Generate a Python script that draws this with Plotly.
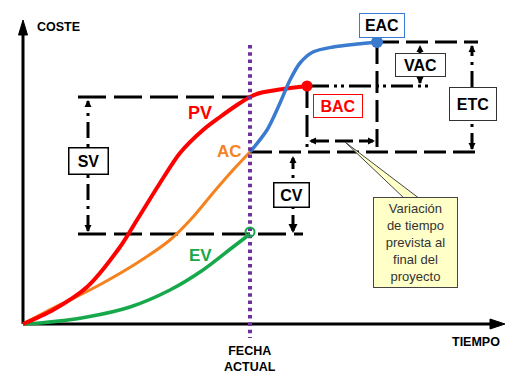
import plotly.graph_objects as go

# ---- data (time, cost) measured from the axes origin ----
pv_t = [0, 30, 64, 97, 114, 137, 157, 180, 197, 214, 227, 237, 260, 284]
pv_c = [0, 14, 37, 77, 104, 141, 171, 194, 207, 219, 227, 231, 235, 238]
ac_t = [0, 30, 47, 80, 114, 147, 170, 190, 210, 227]
ac_c = [0, 16, 24, 41, 61, 84, 107, 131, 154, 172]
ev_t = [0, 17, 64, 107, 147, 180, 210, 227]
ev_c = [0, 1, 7, 17, 34, 54, 77, 90]
eac_t = [227, 244, 257, 267, 277, 290, 310, 334, 354]
eac_c = [172, 194, 221, 244, 261, 272, 277, 280, 282]

DATE_T = 227
PV_AT_DATE = 227
AC_AT_DATE = 172
EV_AT_DATE = 90
BAC_T, BAC = 284, 238
EAC_T, EAC = 354, 282

X_END = 482
Y_END = 304

RED = "#ff0000"
ORANGE = "#f5821f"
GREEN = "#16a84a"
BLUE = "#3a7bd0"
PURPLE = "#7030a0"
FONT = "Liberation Sans, Arial, sans-serif"

fig = go.Figure()

def line(xs, ys, color="black", width=3, dash="solid", shape="linear"):
    fig.add_trace(go.Scatter(x=xs, y=ys, mode="lines",
                             line=dict(color=color, width=width, dash=dash,
                                       shape=shape, smoothing=0.8),
                             hoverinfo="skip"))

def mark(x, y, symbol, size=7, color="black"):
    fig.add_trace(go.Scatter(x=[x], y=[y], mode="markers",
                             marker=dict(symbol=symbol, size=size, color=color,
                                         line=dict(width=0)),
                             hoverinfo="skip"))

# axes
line([0, 0], [0, Y_END - 14])
line([0, X_END - 14], [0, 0])
fig.add_trace(go.Scatter(x=[-4.5, 0, 4.5, -4.5], y=[Y_END - 15, Y_END, Y_END - 15, Y_END - 15],
                         mode="lines", fill="toself", fillcolor="black",
                         line=dict(color="black", width=1), hoverinfo="skip"))
fig.add_trace(go.Scatter(x=[X_END - 15, X_END, X_END - 15, X_END - 15], y=[-5, 0, 5, -5],
                         mode="lines", fill="toself", fillcolor="black",
                         line=dict(color="black", width=1), hoverinfo="skip"))

# reference dashed lines
LD = "28px,8px"
MD = "22px,7px"
line([55, DATE_T], [PV_AT_DATE, PV_AT_DATE], dash=LD)
line([55, 280], [EV_AT_DATE, EV_AT_DATE], dash=LD)
line([DATE_T, 457], [AC_AT_DATE, AC_AT_DATE], dash=MD)
line([EAC_T, 455], [EAC, EAC], dash=MD)
line([BAC_T, 407], [BAC, BAC], dash="22px,5px,3px,4px,3px,5px")
line([BAC_T, BAC_T], [BAC, 177], dash=MD)
line([EAC_T, EAC_T], [EAC, 177], dash=MD)

# horizontal time-variance arrow
line([BAC_T + 4, EAC_T - 4], [183, 183], dash="18px,6px")
mark(BAC_T + 2, 183, "arrow-left")
mark(EAC_T - 2, 183, "arrow-right")

# dimension arrows
DD = "16px,6px,3px,6px"
line([65, 65], [EV_AT_DATE + 3, PV_AT_DATE - 4], dash=DD)
mark(65, PV_AT_DATE - 3, "arrow-up")
mark(65, EV_AT_DATE + 2, "arrow-down")

line([270, 270], [EV_AT_DATE + 3, AC_AT_DATE - 6], dash=DD)
mark(270, AC_AT_DATE - 4, "arrow-up")
mark(270, EV_AT_DATE + 1, "arrow-bar-down", size=9)

line([397, 397], [BAC + 3, EAC - 4], dash="10px,5px,3px,5px")
mark(397, EAC - 3, "arrow-up")
mark(397, BAC + 2, "arrow-down")

line([449, 449], [AC_AT_DATE + 3, EAC - 4], dash=DD)
mark(449, EAC - 3, "arrow-up")
mark(449, AC_AT_DATE + 2, "arrow-down")

# curves
line(ev_t, ev_c, GREEN, 3.5, shape="spline")
line(ac_t, ac_c, ORANGE, 3, shape="spline")
line(pv_t, pv_c, RED, 4, shape="spline")
line(eac_t, eac_c, BLUE, 3.5, shape="spline")

# current date
line([DATE_T, DATE_T], [279, -14], PURPLE, 4, "3.5px,3.8px")

mark(BAC_T, BAC, "circle", 11, RED)
mark(EAC_T, EAC, "circle", 12, BLUE)
fig.add_trace(go.Scatter(x=[DATE_T], y=[EV_AT_DATE + 2], mode="markers",
                         marker=dict(symbol="circle-open", size=9, color=GREEN,
                                     line=dict(color=GREEN, width=2)),
                         hoverinfo="skip"))

# callout tail
fig.add_shape(type="path", xref="x", yref="y",
              path="M 322 182 L 382 125 L 397 125 Z",
              fillcolor="#ffffc8", line=dict(color="#444", width=1))

def label(text, x, y, color="black", size=16, xanchor="center"):
    fig.add_annotation(x=x, y=y, text=text, showarrow=False, xanchor=xanchor,
                       yanchor="middle",
                       font=dict(family=FONT, size=size, color=color))

def box(text, x, y, w, h, color="black", border="black", size=16, bg="white",
        bold=True, bw=1):
    fig.add_annotation(x=x, y=y, text=f"<b>{text}</b>" if bold else text,
                       showarrow=False, xanchor="center", yanchor="middle",
                       width=w, height=h, borderpad=0, borderwidth=bw,
                       bordercolor=border, bgcolor=bg,
                       font=dict(family=FONT, size=size, color=color))

label("<b>PV</b>", 176.5, 211, RED, 18)
label("<b>AC</b>", 206, 173, ORANGE, 17)
label("<b>EV</b>", 177, 68.5, GREEN, 17)
label("<b>COSTE</b>", 12, 297, size=12.5, xanchor="left")
label("<b>TIEMPO</b>", 479, -18, size=12.5, xanchor="right")
label("<b>FECHA<br>ACTUAL</b>", DATE_T, -35, size=12.5)

box("SV", 65, 163.5, 38, 25, bw=1.5)
box("CV", 268, 129.5, 34, 23, bw=1.5)
box("VAC", 397.5, 259, 49, 22, border="#333")
box("ETC", 450, 220, 46, 32, border="#333")
box("EAC", 359, 298.5, 44, 23, border=BLUE)
box("BAC", 315, 218, 48, 22, color=RED, border=RED)
box("Variación<br>de tiempo<br>prevista al<br>final del<br>proyecto", 392.5, 81.5,
    83, 89, color="#333", border="#444", size=13, bg="#ffffc8", bold=False)

fig.update_layout(
    width=524, height=382, margin=dict(l=0, r=0, t=0, b=0),
    paper_bgcolor="white", plot_bgcolor="white", showlegend=False,
    xaxis=dict(range=[-23, 501], visible=False, fixedrange=True),
    yaxis=dict(range=[-58, 324], visible=False, fixedrange=True),
)

fig.write_html("out.html")
